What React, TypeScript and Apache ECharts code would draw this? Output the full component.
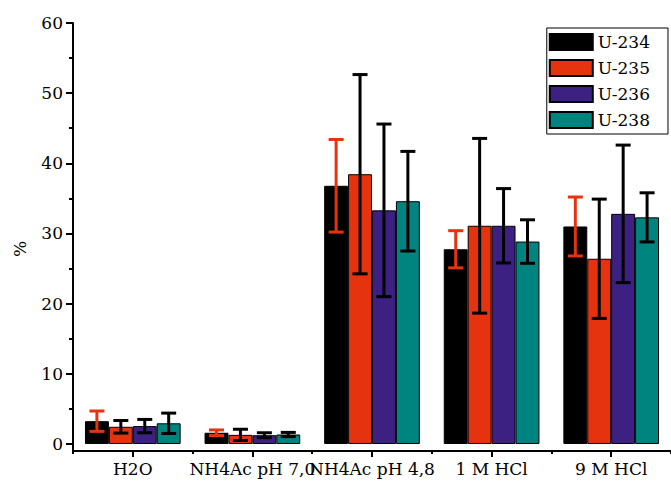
import React, { useEffect, useRef } from 'react';
import * as echarts from 'echarts';

const categories = ['H2O', 'NH4Ac pH 7,0', 'NH4Ac pH 4,8', '1 M HCl', '9 M HCl'];
const seriesNames = ['U-234', 'U-235', 'U-236', 'U-238'];
const u234 = [3.25, 1.6, 36.8, 27.75, 31.0];
const u234Err = [1.45, 0.4, 6.6, 2.65, 4.2];
const u235 = [2.45, 1.3, 38.45, 31.1, 26.4];
const u235Err = [0.9, 0.8, 14.2, 12.45, 8.5];
const u236 = [2.55, 1.25, 33.3, 31.1, 32.8];
const u236Err = [0.95, 0.35, 12.3, 5.3, 9.8];
const u238 = [2.95, 1.35, 34.6, 28.85, 32.3];
const u238Err = [1.45, 0.3, 7.1, 3.1, 3.5];
const yMajorTicks = [0, 10, 20, 30, 40, 50, 60];
const yMinorTicks = [5, 15, 25, 35, 45, 55];

const barColors = ['#000000', '#e6330f', '#3c2182', '#008480'];
const errColors = ['#e6330f', '#000000', '#000000', '#000000'];
const FONT = "'DejaVu Serif', serif";

export default function App() {
  const ref = useRef<HTMLDivElement>(null);
  useEffect(() => {
    if (!ref.current) return;
    const chart = echarts.init(ref.current, null, { renderer: 'svg' });
    const values = [u234, u235, u236, u238];
    const errs = [u234Err, u235Err, u236Err, u238Err];

    const barSeries = seriesNames.map((name, si) => ({
      type: 'bar',
      name,
      data: values[si],
      barGap: '0%',
      barCategoryGap: '20%',
      itemStyle: { color: barColors[si], borderColor: '#000', borderWidth: 1 },
      z: 2,
    }));

    const errSeries = seriesNames.map((name, si) => ({
      type: 'custom',
      name: 'err-' + name,
      data: categories.map((c, i) => [i, values[si][i], errs[si][i]]),
      z: 3,
      renderItem: (params: any, api: any) => {
        const ci = api.value(0);
        const v = api.value(1);
        const e = api.value(2);
        const center = api.coord([ci, v]);
        const bandW = api.size([1, 0])[0];
        const barW = (bandW * 0.8) / 4;
        const x = center[0] + (si - 1.5) * barW;
        const top = api.coord([ci, v + e])[1];
        const bot = api.coord([ci, v - e])[1];
        const cap = 7.5;
        const st = { stroke: errColors[si], lineWidth: 3 };
        return {
          type: 'group',
          children: [
            { type: 'line', shape: { x1: x, y1: top, x2: x, y2: bot }, style: st },
            { type: 'line', shape: { x1: x - cap, y1: top, x2: x + cap, y2: top }, style: st },
            { type: 'line', shape: { x1: x - cap, y1: bot, x2: x + cap, y2: bot }, style: st },
          ],
        };
      },
    }));

    chart.setOption({
      animation: false,
      backgroundColor: '#ffffff',
      grid: { left: 73, right: -2, top: 23, bottom: 30, containLabel: false },
      legend: {
        data: seriesNames,
        orient: 'vertical',
        right: 3,
        top: 28,
        itemWidth: 43,
        itemHeight: 16,
        itemGap: 8,
        icon: 'rect',
        borderColor: '#000',
        borderWidth: 1,
        padding: [5, 18, 5, 2],
        backgroundColor: '#fff',
        textStyle: { fontFamily: FONT, fontSize: 17, color: '#000', lineHeight: 16 },
      },
      xAxis: [
        {
          type: 'category',
          data: categories,
          position: 'bottom',
          axisLine: { onZero: false, lineStyle: { color: '#000', width: 2 } },
          axisTick: { show: true, alignWithLabel: false, length: 3, lineStyle: { color: '#000', width: 2 } },
          axisLabel: { fontFamily: FONT, fontSize: 17, color: '#000', margin: 9, interval: 0 },
          splitLine: { show: false },
        },
        {
          type: 'category',
          data: categories,
          position: 'bottom',
          axisLine: { show: false, onZero: false },
          axisTick: { show: true, alignWithLabel: true, length: 6, lineStyle: { color: '#000', width: 2 } },
          axisLabel: { show: false },
          splitLine: { show: false },
        },
      ],
      yAxis: [
        {
          type: 'value',
          position: 'left',
          min: -1,
          max: 60,
          axisLine: { show: true, lineStyle: { color: '#000', width: 2 } },
          axisTick: { show: true, length: 7, customValues: yMajorTicks, lineStyle: { color: '#000', width: 2 } },
          axisLabel: {
            fontFamily: FONT,
            fontSize: 17,
            color: '#000',
            margin: 10,
            customValues: yMajorTicks,
            formatter: (v: number) => (v < 0 ? '' : String(v)),
          },
          splitLine: { show: false },
        },
        {
          type: 'value',
          position: 'left',
          min: -1,
          max: 60,
          axisLine: { show: false },
          axisTick: { show: true, length: 4, customValues: yMinorTicks, lineStyle: { color: '#000', width: 2 } },
          axisLabel: { show: false },
          splitLine: { show: false },
        },
      ],
      graphic: [
        {
          type: 'text',
          x: 20,
          y: 249,
          rotation: Math.PI / 2,
          style: {
            text: '%',
            fontSize: 17,
            fontFamily: FONT,
            fill: '#000',
            align: 'center',
            verticalAlign: 'middle',
            textAlign: 'center',
            textVerticalAlign: 'middle',
          },
        },
      ],
      series: [...barSeries, ...errSeries],
    });
    return () => chart.dispose();
  }, []);
  return <div ref={ref} style={{ position: 'fixed', left: 0, top: 0, width: 671, height: 481 }} />;
}
